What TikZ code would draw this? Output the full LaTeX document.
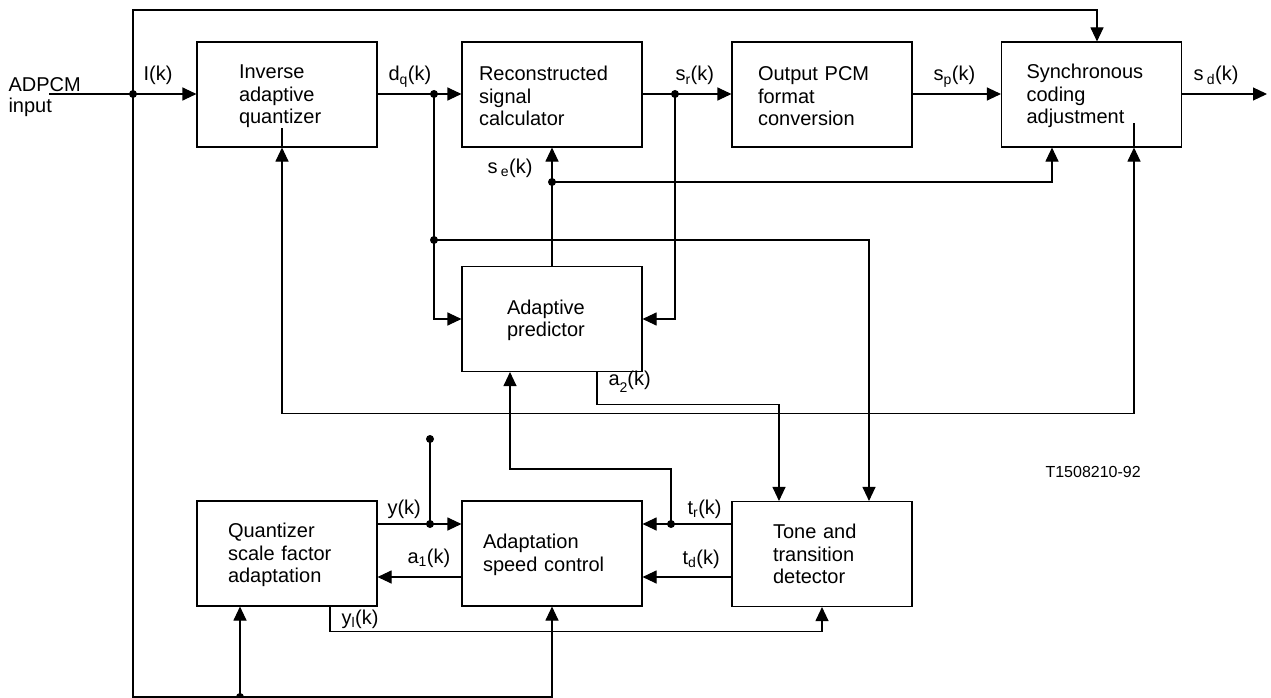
\documentclass[tikz,border=0pt]{standalone}
\usepackage{fontspec}
\setmainfont{Liberation Sans}
\usetikzlibrary{arrows.meta,calc}
\newcommand{\tstrut}{\rule{0pt}{17.5pt}}
\begin{document}
\begin{tikzpicture}[x=1pt,y=-1pt,line width=1.1pt,
  box/.style={draw,rectangle,minimum width=180pt,minimum height=105pt,align=left,
    inner ysep=0pt,font=\fontsize{20}{22.5}\selectfont},
  arr/.style={-{Triangle[length=14pt,width=13pt]}},
  barr/.style={{Triangle[length=14pt,width=13pt]}-{Triangle[length=14pt,width=13pt]}},
  lbl/.style={anchor=base west,inner sep=0pt,font=\fontsize{20}{22.5}\selectfont},
  thickline/.style={line width=2.2pt}]
\useasboundingbox (0,0) rectangle (1271,698);
% boxes
\node[box,text width=96pt,inner xsep=42pt] (iaq) at (287,94.5) {\tstrut Inverse\\adaptive\\quantizer};
\node[box,text width=146pt,inner xsep=17pt] (rsc) at (552,94.5) {\tstrut Reconstructed\\signal\\calculator};
\node[box,text width=128pt,inner xsep=26pt] (opc) at (822,94.5) {\tstrut Output PCM\\format\\conversion};
\node[box,text width=130pt,inner xsep=25pt] (sca) at (1091.5,94.5) {\tstrut Synchronous\\coding\\adjustment};
\node[box,text width=90pt,inner xsep=45pt] (ap) at (552,319) {\tstrut Adaptive\\predictor};
\node[box,text width=118pt,inner xsep=31pt] (qsf) at (287,553.5) {\tstrut Quantizer\\scale factor\\adaptation};
\node[box,text width=138pt,inner xsep=21pt] (asc) at (552,553.5) {\tstrut Adaptation\\speed control};
\node[box,text width=98pt,inner xsep=41pt] (ttd) at (822,554) {Tone and\\transition\\detector};
% labels
\node[anchor=north west,inner sep=0pt,align=left,font=\fontsize{20}{21}\selectfont] (inp) at (8,77) {ADPCM\\input};
\node[lbl] (lI) at (143,81) {I(k)};
\node[lbl] (ldq) at (388,81) {d\textsubscript{q}(k)};
\node[lbl] (lsr) at (675,81) {s\textsubscript{r}(k)};
\node[lbl] (lsp) at (933,81) {s\textsubscript{p}(k)};
\node[lbl] (lsd) at (1193,81) {s\,\textsubscript{d}(k)};
\node[lbl] (lse) at (487,173) {s\,\textsubscript{e}(k)};
\node[lbl] (la2) at (608,385) {a\raisebox{-7pt}{\fontsize{14}{14}\selectfont 2}(k)};
\node[lbl] (ly) at (387,514) {y(k)};
\node[lbl] (la1) at (407,563) {a\textsubscript{1}(k)};
\node[lbl] (lyl) at (341,624) {y\textsubscript{l}(k)};
\node[lbl] (ltr) at (687,514) {t\textsubscript{r}(k)};
\node[lbl] (ltd) at (682,564) {t\textsubscript{d}(k)};
\node[lbl,font=\fontsize{16}{18}\selectfont] (tag) at (1045,477) {T1508210-92};
% coordinates
\coordinate (cin) at (49,94);
\coordinate (j1) at (133,94);
\coordinate (jdq) at (434,94);
\coordinate (jdq2) at (434,240);
\coordinate (jsr) at (675,94);
\coordinate (jse) at (552,182);
\coordinate (cout) at (1267,94);
\coordinate (jtr) at (671,524);
\coordinate (jy) at (430,524);
\coordinate (jtop) at (430,439);
\coordinate (jb) at (240,697);
\coordinate (ytd) at (0,577);
% connectors
\draw (cin) -- (j1);
\draw[arr] (j1) -- (iaq.west |- j1);
\draw[arr] (j1) -- (133,10) -| ($(sca.north)+(5.5,0)$);
\draw (iaq.east |- jdq) -- (jdq);
\draw[arr] (jdq) -- (rsc.west |- jdq);
\draw (jdq) -- (jdq2);
\draw[arr] (jdq2) |- (ap.west);
\draw[arr] (jdq2) -| ($(ttd.north)+(47,0)$);
\draw (rsc.east |- jsr) -- (jsr);
\draw[arr] (jsr) -- (opc.west |- jsr);
\draw[arr] (jsr) |- (ap.east);
\draw[arr] (opc.east |- jsr) -- (sca.west |- jsr);
\draw[arr] (sca.east |- cout) -- (cout);
\draw[thickline] (ap.north) -- (jse);
\draw[arr] (jse) -- (rsc.south);
\draw[arr] (jse) -| ($(sca.south)+(-39.5,0)$);
\draw[arr] ($(ap.south)+(45,0)$) -- ++(0,32) -| ($(ttd.north)+(-43,0)$);
\draw[arr] (jtr) -- ++(0,-55) -| ($(ap.south)+(-42,0)$);
\draw[barr] ($(iaq.south)+(-5,0)$) -- ++(0,266) -| ($(sca.south)+(42.5,0)$);
\draw ($(iaq.south)+(-5,0)$) -- ++(0,-20);
\draw ($(sca.south)+(42.5,0)$) -- ++(0,-25);
\draw (ttd.west |- jtr) -- (jtr);
\draw[arr] (jtr) -- (asc.east |- jtr);
\draw[arr] (ttd.west |- ytd) -- (asc.east |- ytd);
\draw (qsf.east |- jy) -- (jy);
\draw[arr] (jy) -- (asc.west |- jy);
\draw[thickline] (jy) -- (jtop);
\draw[arr] (asc.west |- ytd) -- (qsf.east |- ytd);
\draw[arr] ($(qsf.south)+(43,0)$) -- ++(0,25) -| (ttd.south);
\draw (j1) |- (jb);
\draw[arr] (jb) -- ($(qsf.south)+(-47,0)$);
\draw[arr] (jb) -| (asc.south);
% dots
\foreach \p in {j1,jdq,jdq2,jsr,jse,jy,jtop,jtr,jb} \fill (\p) circle (4pt);
\end{tikzpicture}
\end{document}
